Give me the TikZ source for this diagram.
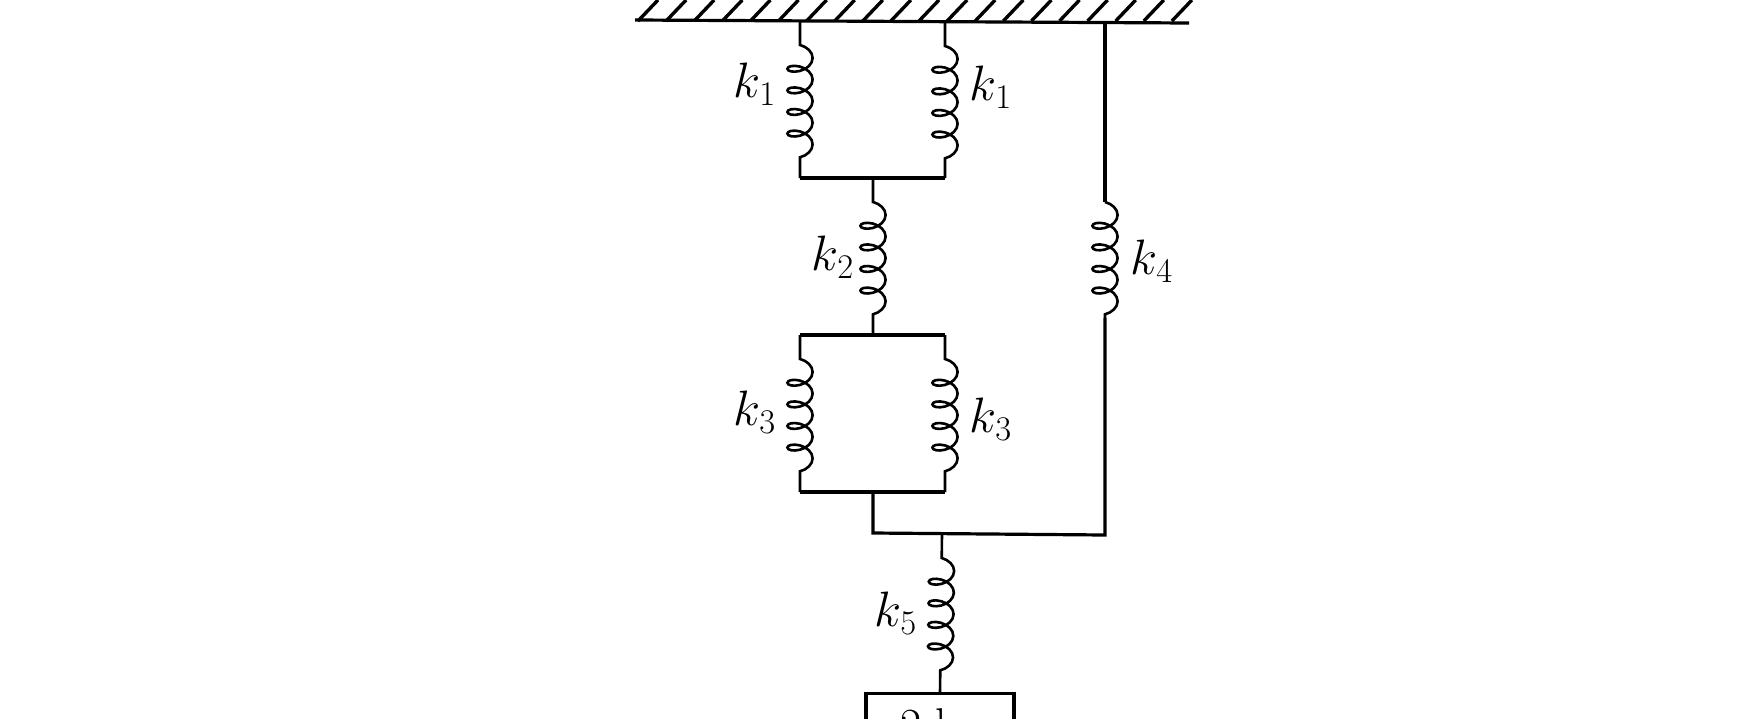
\documentclass[tikz,border=0pt]{standalone}
\usepackage{amsmath}
\usetikzlibrary{decorations.pathmorphing}
\tikzset{
  wire/.style={line width=1.6pt},
  coilspring/.style={line width=1.3pt, decorate,
    decoration={coil, amplitude=6.3pt, segment length=10.8pt, aspect=.6, pre length=12pt, post length=8pt}},
  lab/.style={font=\fontsize{23}{23}\selectfont, inner sep=0pt}
}
\begin{document}
\begin{tikzpicture}[x=.5pt,y=-.5pt]
    \useasboundingbox (0,0) rectangle (1754,718);
    \clip (0,0) rectangle (1754,718);

    % ceiling
    \coordinate (wl) at (635,20);
    \coordinate (wr) at (1189,23);
    \draw[wire] (wl) -- (wr);
    \foreach \x in {0,...,19} \draw[line width=1.7pt] (638+\x*28.1,21) -- (658+\x*28.1,0);

    % top pair
    \coordinate (a1) at (800,21);
    \coordinate (b1) at (800,178);
    \coordinate (a2) at (945,22);
    \coordinate (b2) at (945,178);
    \draw[coilspring] (a1) -- (b1);
    \draw[coilspring] (a2) -- (b2);
    \draw[wire] (b1) -- (b2);

    % middle spring
    \coordinate (c1) at (873,178);
    \coordinate (c2) at (873,335);
    \draw[coilspring] (c1) -- (c2);

    % lower pair
    \coordinate (d1) at (800,335);
    \coordinate (e1) at (800,492);
    \coordinate (d2) at (945,335);
    \coordinate (e2) at (945,492);
    \draw[wire] (d1) -- (d2);
    \draw[coilspring] (d1) -- (e1);
    \draw[coilspring] (d2) -- (e2);
    \draw[wire] (e1) -- (e2);

    % long branch
    \coordinate (f1) at (1105,23);
    \coordinate (f2) at (1105,202);
    \coordinate (f3) at (1105,318);
    \coordinate (f4) at (1105,535);
    \coordinate (g1) at (873,492);
    \coordinate (g2) at (873,533);
    \draw[wire] (f1) -- (f2);
    \draw[coilspring, decoration={pre length=0pt, post length=0pt}] (f2) -- (f3);
    \draw[wire] (f3) -- (f4) -- (g2) -- (g1);

    % last spring and the mass
    \coordinate (h1) at (942,534);
    \node[draw, line width=1.6pt, minimum width=74pt, minimum height=40pt, inner sep=0pt, anchor=north] (mass) at (940,692) {};
    \draw[coilspring] (h1) -- (mass.north);
    \node[lab, anchor=north] (masslab) at (940,708) {2 kg};

    \node[lab] (l1) at (755,84) {$k_1$};
    \node[lab] (l2) at (991,87) {$k_1$};
    \node[lab] (l3) at (833,257) {$k_2$};
    \node[lab] (l4) at (755,412) {$k_3$};
    \node[lab] (l5) at (991,419) {$k_3$};
    \node[lab] (l6) at (1152,261) {$k_4$};
    \node[lab] (l7) at (896,613) {$k_5$};
\end{tikzpicture}
\end{document}
